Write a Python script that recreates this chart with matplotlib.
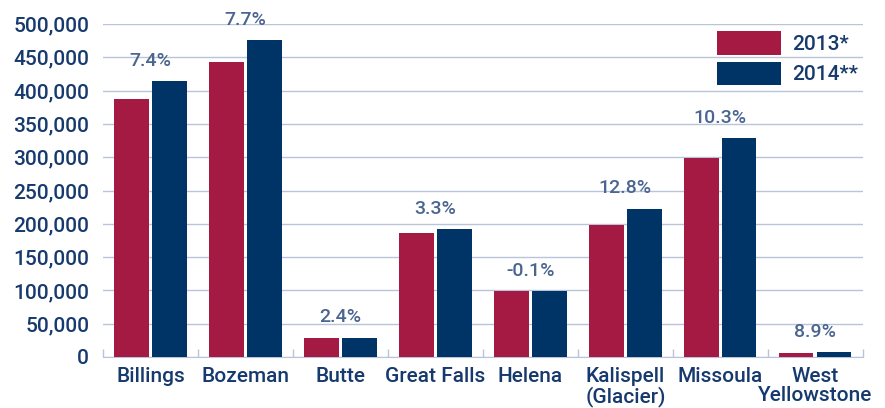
import numpy as np
import matplotlib.pyplot as plt
from matplotlib.ticker import FuncFormatter, MultipleLocator, FixedLocator

cities = ['Billings', 'Bozeman', 'Butte', 'Great Falls', 'Helena',
          'Kalispell\n(Glacier)', 'Missoula', 'West\nYellowstone']
values_2013 = [388000, 443000, 28500, 186500, 99200, 198000, 299000, 6400]
values_2014 = [415000, 476000, 29200, 192700, 99100, 223000, 329000, 7000]
pct_change = ['7.4%', '7.7%', '2.4%', '3.3%', '-0.1%', '12.8%', '10.3%', '8.9%']

red = '#A51A42'
navy = '#003366'
text_col = '#173A6E'
pct_col = '#4A6590'
grid_col = '#B9C4DB'

plt.rcParams['font.family'] = ['Roboto', 'DejaVu Sans']
plt.rcParams['font.weight'] = 'medium'

fig = plt.figure(figsize=(8.85, 4.08), dpi=100)
ax = fig.add_axes([0.1164, 0.125, 0.8586, 0.816])

x = np.arange(len(cities))
w = 0.36
off = 0.2
ax.bar(x - off, values_2013, w, color=red, label='2013*', zorder=3)
ax.bar(x + off, values_2014, w, color=navy, label='2014**', zorder=3)

for i, lab in enumerate(pct_change):
    top = max(values_2013[i], values_2014[i])
    ax.annotate(lab, (x[i], top), xytext=(0, 8), textcoords='offset points',
                ha='center', va='bottom', fontsize=14, color=pct_col,
                fontweight='medium', annotation_clip=False)

ax.set_xlim(-0.5, len(cities) - 0.5)
ax.set_ylim(0, 500000)
ax.yaxis.set_major_locator(MultipleLocator(50000))
ax.yaxis.set_major_formatter(FuncFormatter(lambda v, p: f'{int(v):,}'))
ax.grid(axis='y', color=grid_col, linewidth=1, zorder=0)
ax.set_axisbelow(True)

ax.set_xticks(x)
ax.set_xticklabels(cities, linespacing=1.0, fontweight='medium')
ax.xaxis.set_minor_locator(FixedLocator(np.arange(-0.5, len(cities), 1.0)))
ax.tick_params(axis='x', which='major', length=0, pad=7, labelsize=15,
               labelcolor=text_col)
ax.tick_params(axis='x', which='minor', direction='in', length=6,
               color=grid_col, width=1)
ax.tick_params(axis='y', length=0, pad=10, labelsize=15, labelcolor=text_col)
for t in ax.get_yticklabels():
    t.set_fontweight('medium')

for s in ['top', 'right', 'left']:
    ax.spines[s].set_visible(False)
ax.spines['bottom'].set_color(grid_col)

ax.legend(loc='upper right', bbox_to_anchor=(1.018, 1.035), frameon=False,
          prop={'size': 15, 'weight': 'medium'}, labelcolor=text_col,
          handlelength=3.1, handleheight=1.35, handletextpad=0.5,
          labelspacing=0.35)

fig.savefig('out.png', dpi=100)
